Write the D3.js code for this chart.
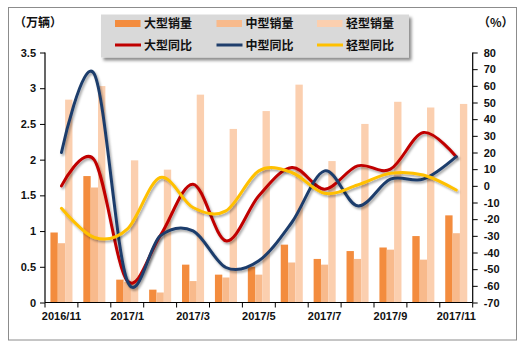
<!DOCTYPE html>
<html>
<head>
<meta charset="utf-8">
<script src="https://cdn.jsdelivr.net/npm/d3@7"></script>
<style>
  html, body { margin: 0; padding: 0; background: #fff; }
  svg { display: block; }
  .num { font-family: "Liberation Sans", Arial, sans-serif; font-weight: bold; font-size: 11px; fill: #111; }
  .cjk { font-family: "Noto Sans CJK SC", sans-serif; font-weight: bold; font-size: 12px; fill: #111; }
</style>
</head>
<body>
<svg id="chart" width="524" height="349"></svg>
<script>
// Monthly sales (10k units) and year-on-year growth (%) by vehicle class
const months = ["2016/11","2016/12","2017/1","2017/2","2017/3","2017/4","2017/5",
                "2017/6","2017/7","2017/8","2017/9","2017/10","2017/11"];
const largeSales  = [0.98, 1.77, 0.32, 0.18, 0.53, 0.39, 0.50, 0.81, 0.61, 0.72, 0.77, 0.93, 1.22];
const mediumSales = [0.83, 1.61, 0.29, 0.14, 0.30, 0.35, 0.39, 0.56, 0.53, 0.61, 0.74, 0.60, 0.97];
const lightSales  = [2.84, 3.03, 1.99, 1.86, 2.91, 2.43, 2.68, 3.05, 1.98, 2.50, 2.81, 2.73, 2.78];
const largeYoY  = [0, 15.5, -57, -30, 1, -33, -6, 11, -2, 12, 10, 32, 17.5];
const mediumYoY = [20, 67, -57, -30, -27, -49, -45, -22, 9, -12, 4, 4, 17.5];
const lightYoY  = [-13.5, -31, -26, 5, -13, -15, 9, 8, -4.5, 0.5, 7.5, 6.5, -2.5];
const leftTicks  = [0, 0.5, 1, 1.5, 2, 2.5, 3, 3.5];
const rightTicks = [-70, -60, -50, -40, -30, -20, -10, 0, 10, 20, 30, 40, 50, 60, 70, 80];
const xLabelMonths = ["2016/11","2017/1","2017/3","2017/5","2017/7","2017/9","2017/11"];

const barSeries = [
  { name: "大型销量", values: largeSales,  color: "#F38C3E" },
  { name: "中型销量", values: mediumSales, color: "#F8BA8C" },
  { name: "轻型销量", values: lightSales,  color: "#FBCFAF" }
];
const lineSeries = [
  { name: "大型同比", values: largeYoY,  color: "#C00000" },
  { name: "中型同比", values: mediumYoY, color: "#1F3E6C" },
  { name: "轻型同比", values: lightYoY,  color: "#FFC000" }
];

const svg = d3.select("#chart");
const plot = { left: 45, right: 472.7, top: 52.5, bottom: 302.5 };

// soft drop shadows for lines and legend box
const defs = svg.append("defs");
defs.append("filter").attr("id", "lineShadow")
  .attr("x", "-10%").attr("y", "-10%").attr("width", "130%").attr("height", "130%")
  .append("feDropShadow").attr("dx", 1.5).attr("dy", 2).attr("stdDeviation", 1.2)
  .attr("flood-color", "#000").attr("flood-opacity", 0.35);
defs.append("filter").attr("id", "boxShadow")
  .attr("x", "-5%").attr("y", "-20%").attr("width", "115%").attr("height", "160%")
  .append("feDropShadow").attr("dx", 2.5).attr("dy", 3).attr("stdDeviation", 1.5)
  .attr("flood-color", "#000").attr("flood-opacity", 0.45);

// outer frame
svg.append("rect").attr("x", 8.5).attr("y", 7.5).attr("width", 508).attr("height", 332.5)
  .attr("fill", "#fff").attr("stroke", "#8c8c8c").attr("stroke-width", 1);

const x = d3.scaleBand().domain(months).range([plot.left, plot.right]).padding(0);
const yL = d3.scaleLinear().domain([0, 3.5]).range([plot.bottom, plot.top]);
const yR = d3.scaleLinear().domain([-70, 80]).range([plot.bottom, plot.top]);

// bars: three side by side per month, group spanning two thirds of the band
const groupW = x.bandwidth() * 0.67;
const sub = d3.scaleBand().domain(barSeries.map(s => s.name)).range([0, groupW]).padding(0);
const barG = svg.append("g");
barSeries.forEach(s => {
  barG.selectAll(null).data(s.values).enter().append("rect")
    .attr("x", (d, i) => x(months[i]) + (x.bandwidth() - groupW) / 2 + sub(s.name))
    .attr("width", sub.bandwidth())
    .attr("y", d => yL(d))
    .attr("height", d => yL(0) - yL(d))
    .attr("fill", s.color);
});

// smoothed growth lines on the right axis
const line = d3.line()
  .x((d, i) => x(months[i]) + x.bandwidth() / 2)
  .y(d => yR(d))
  .curve(d3.curveCardinal.tension(0));
const lineG = svg.append("g");
lineSeries.forEach(s => {
  lineG.append("path").datum(s.values)
    .attr("d", line)
    .attr("fill", "none")
    .attr("stroke", s.color)
    .attr("stroke-width", 3)
    .attr("stroke-linecap", "round")
    .attr("filter", "url(#lineShadow)");
});

// axes
const leftAxis = svg.append("g").attr("transform", `translate(${plot.left},0)`)
  .call(d3.axisLeft(yL).tickValues(leftTicks).tickSize(5).tickPadding(4)
    .tickFormat(d => String(d)));
const rightAxis = svg.append("g").attr("transform", `translate(${plot.right},0)`)
  .call(d3.axisRight(yR).tickValues(rightTicks).tickSize(5).tickPadding(6)
    .tickFormat(d => String(d)));
const bottomAxis = svg.append("g").attr("transform", `translate(0,${plot.bottom})`)
  .call(d3.axisBottom(x).tickSize(0).tickPadding(10)
    .tickFormat(d => xLabelMonths.includes(d) ? d : ""));
// tick marks on the category boundaries
const boundaries = months.map(m => x(m)).concat([plot.right]);
bottomAxis.selectAll(".bound").data(boundaries).enter().append("line")
  .attr("class", "bound")
  .attr("x1", d => d).attr("x2", d => d).attr("y1", 0).attr("y2", 5)
  .attr("stroke", "#000");

[leftAxis, rightAxis, bottomAxis].forEach(a => {
  a.select(".domain").attr("stroke", "#000").attr("stroke-width", 1.2);
  a.selectAll(".tick line").attr("stroke", "#000");
  a.selectAll("text").attr("class", "num").attr("fill", "#111");
});
leftAxis.select(".domain").attr("d", `M0,${plot.top}V${plot.bottom}`);
rightAxis.select(".domain").attr("d", `M0,${plot.top}V${plot.bottom}`);
bottomAxis.select(".domain").attr("d", `M${plot.left},0H${plot.right}`);

// unit labels
svg.append("text").attr("class", "cjk").attr("x", 14).attr("y", 27).text("（万辆）");
svg.append("text").attr("class", "cjk").attr("x", 478).attr("y", 27).text("（%）");

// legend
const legend = svg.append("g");
legend.append("rect").attr("x", 101).attr("y", 14.5).attr("width", 308).attr("height", 43)
  .attr("fill", "#d9d9d9").attr("filter", "url(#boxShadow)");
const colX = [115, 216.5, 317];
const rowY = [23.5, 45];
barSeries.forEach((s, i) => {
  legend.append("rect").attr("x", colX[i]).attr("y", rowY[0] - 3.5)
    .attr("width", 25.5).attr("height", 7).attr("fill", s.color);
  legend.append("text").attr("class", "cjk").attr("x", colX[i] + 29).attr("y", rowY[0] + 4.5).text(s.name);
});
lineSeries.forEach((s, i) => {
  legend.append("line").attr("x1", colX[i]).attr("x2", colX[i] + 26)
    .attr("y1", rowY[1]).attr("y2", rowY[1])
    .attr("stroke", s.color).attr("stroke-width", 3);
  legend.append("text").attr("class", "cjk").attr("x", colX[i] + 29).attr("y", rowY[1] + 4.5).text(s.name);
});
</script>
</body>
</html>
